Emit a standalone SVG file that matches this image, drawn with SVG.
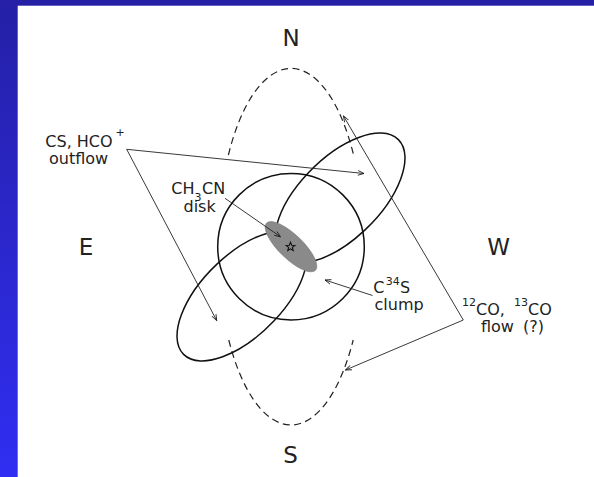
<svg xmlns="http://www.w3.org/2000/svg" width="594" height="477" viewBox="0 0 594 477">
  <defs>
    <linearGradient id="bg" x1="0" y1="0" x2="0" y2="1">
      <stop offset="0" stop-color="#2520a6"/>
      <stop offset="1" stop-color="#302ef2"/>
    </linearGradient>
    <marker id="ah" viewBox="-7 -4 8 8" markerWidth="8" markerHeight="8" refX="0" refY="0" markerUnits="userSpaceOnUse" orient="auto-start-reverse">
      <path d="M-6,-2.3 L0,0 L-6,2.3" fill="none" stroke="#222" stroke-width="0.9"/>
    </marker>
    <style>
      .bold { fill: none; stroke: #111; stroke-width: 1.5; }
      .dash { fill: none; stroke: #222; stroke-width: 1.2; stroke-dasharray: 7 4.5; }
      .conn { fill: none; stroke: #222; stroke-width: 0.9; marker-end: url(#ah); }
      .dir { font-family: "DejaVu Sans", sans-serif; font-size: 23px; fill: #222; text-anchor: middle; }
      .lbl { font-family: "DejaVu Sans", sans-serif; font-size: 16px; fill: #222; }
      .sup { font-size: 11px; }
    </style>
  </defs>

  <g id="background">
    <rect x="0" y="0" width="594" height="477" fill="#ffffff"/>
    <rect x="0" y="0" width="17.7" height="477" fill="url(#bg)"/>
    <rect x="0" y="0" width="594" height="5.7" fill="#2520a6"/>
  </g>

  <g id="compass">
    <text class="dir" x="291" y="45.7">N</text>
    <text class="dir" x="86" y="255">E</text>
    <text class="dir" x="498.5" y="255">W</text>
    <text class="dir" x="290.5" y="463.3">S</text>
  </g>

  <g id="co-flow-dashed">
    <path class="dash" d="M228.4,155 A73,178.3 0 0 1 353.6,155"/>
    <path class="dash" d="M228.8,340 A73,178.3 0 0 0 353.2,340"/>
  </g>

  <g id="c34s-clump">
    <circle class="bold" cx="291" cy="246.7" r="73.3"/>
  </g>

  <g id="outflow-ne">
    <path class="bold" d="M276.94,224.42 A82.6,40.3 -45 1 1 313.58,261.06"/>
  </g>
  <g id="outflow-sw">
    <path class="bold" d="M305.06,269.58 A82.6,40.3 -45 1 1 268.42,232.94"/>
  </g>

  <g id="ch3cn-disk">
    <ellipse cx="291" cy="246.7" rx="34" ry="12" transform="rotate(44 291 246.7)" fill="#8a8a8a" stroke="#7a7a7a" stroke-width="0.6"/>
    <path transform="translate(290.5 246.8)" d="M0,-4.6 L1.176,-1.618 L4.375,-1.421 L1.902,0.618 L2.704,3.721 L0,2 L-2.704,3.721 L-1.902,0.618 L-4.375,-1.421 L-1.176,-1.618 Z" fill="none" stroke="#111" stroke-width="1.1" stroke-linejoin="miter"/>
  </g>

  <g id="connectors">
    <path class="conn" style="marker-start:url(#ah)" d="M364,173.5 L126.7,149.3 L216.7,320.5"/>
    <path class="conn" style="marker-start:url(#ah)" d="M343.5,116 L463.3,320 L345.5,370"/>
    <path class="conn" d="M225,198.3 L280.5,236.8"/>
    <path class="conn" d="M372.5,295.5 L325,280"/>
  </g>

  <g id="label-outflow">
    <text class="lbl"><tspan x="45.3" y="146.7">CS, HCO</tspan><tspan class="sup" x="115.5" y="136">+</tspan></text>
    <text class="lbl" x="49" y="164">outflow</text>
  </g>

  <g id="label-disk">
    <text class="lbl"><tspan x="171.3" y="194.3">CH</tspan><tspan class="sup" x="194.6" y="200.7">3</tspan><tspan x="202" y="194.3">CN</tspan></text>
    <text class="lbl" x="183.5" y="212">disk</text>
  </g>

  <g id="label-clump">
    <text class="lbl"><tspan x="373.3" y="293.3">C</tspan><tspan class="sup" x="385.7" y="285">34</tspan><tspan x="400" y="293.3">S</tspan></text>
    <text class="lbl" x="374.5" y="310">clump</text>
  </g>

  <g id="label-coflow">
    <text class="lbl"><tspan class="sup" x="462" y="305.6">12</tspan><tspan x="476" y="315">CO,</tspan><tspan class="sup" x="514" y="305.6">13</tspan><tspan x="528" y="315">CO</tspan></text>
    <text class="lbl"><tspan x="481" y="331.5">flow</tspan><tspan x="523" y="331.5">(?)</tspan></text>
  </g>
</svg>
